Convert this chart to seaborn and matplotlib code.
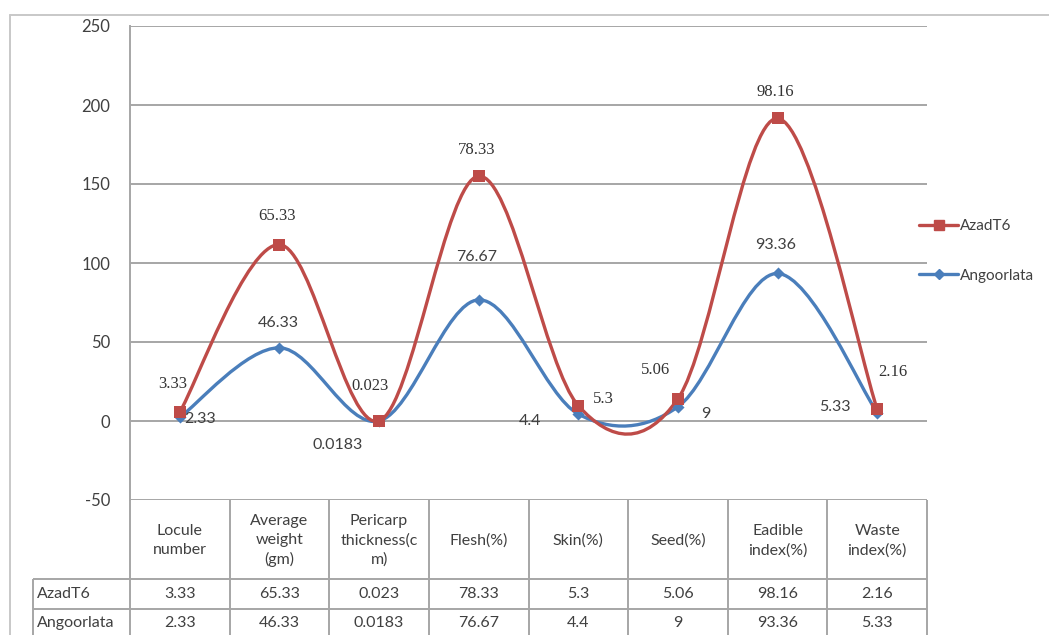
import numpy as np
import pandas as pd
import seaborn as sns
import matplotlib
matplotlib.use("Agg")
import matplotlib.pyplot as plt
from matplotlib.path import Path
from matplotlib.patches import PathPatch
from matplotlib.lines import Line2D

# ---- data -------------------------------------------------------------
categories = ["Locule\nnumber", "Average\nweight\n(gm)", "Pericarp\nthickness(c\nm)",
              "Flesh(%)", "Skin(%)", "Seed(%)", "Eadible\nindex(%)", "Waste\nindex(%)"]
series_names = ["AzadT6", "Angoorlata"]
azad_t6 = [3.33, 65.33, 0.023, 78.33, 5.3, 5.06, 98.16, 2.16]
angoorlata = [2.33, 46.33, 0.0183, 76.67, 4.4, 9, 93.36, 5.33]
table_text_azad = ["3.33", "65.33", "0.023", "78.33", "5.3", "5.06", "98.16", "2.16"]
table_text_angoor = ["2.33", "46.33", "0.0183", "76.67", "4.4", "9", "93.36", "5.33"]
y_ticks = [-50, 0, 50, 100, 150, 200, 250]

# ---- styling / layout --------------------------------------------------
W, H, DPI = 1049, 635, 100
RED = "#BE4B48"
BLUE = "#4A7EBB"
GRID = "#A6A6A6"
TXT = "#404040"
SANS = ["Lato", "DejaVu Sans"]
SERIF = ["Liberation Serif", "DejaVu Serif"]

# label offsets in pixels (dx, dy up)
red_label_off = [(-7, 28), (-2, 29), (-9, 35), (-2, 26), (25, 7), (-22, 29), (-2, 26), (16, 37)]
blue_label_off = [(20, -2), (-1, 25), (-41, -24), (-2, 43), (-48, -7), (28, -7), (-2, 28), (-42, 6)]

sns.set_theme(style="white")
plt.rcParams["font.family"] = SANS
plt.rcParams["axes.unicode_minus"] = False

fig = plt.figure(figsize=(W / DPI, H / DPI), dpi=DPI)
fig.patch.set_facecolor("white")

# plot area in pixels
PL, PR, PT, PB = 130, 927, 26, 500
ax = fig.add_axes([PL / W, 1 - PB / H, (PR - PL) / W, (PB - PT) / H], zorder=2)
ax.set_facecolor("none")

x = np.arange(len(categories))
# stacked line: AzadT6 sits on top of Angoorlata
stack_top = np.array(angoorlata) + np.array(azad_t6)
df = pd.DataFrame({
    "x": np.concatenate([x, x]),
    "y": np.concatenate([angoorlata, stack_top]),
    "series": ["Angoorlata"] * len(x) + ["AzadT6"] * len(x),
})


def smooth_path(xs, ys):
    """Cubic Bezier path through the points (Catmull-Rom style tangents)."""
    pts = np.column_stack([xs, ys]).astype(float)
    n = len(pts)
    verts = [pts[0]]
    codes = [Path.MOVETO]
    for i in range(n - 1):
        p_prev = pts[i - 1] if i > 0 else pts[i]
        p_next2 = pts[i + 2] if i + 2 < n else pts[i + 1]
        c1 = pts[i] + (pts[i + 1] - p_prev) / 6.0
        c2 = pts[i + 1] - (p_next2 - pts[i]) / 6.0
        verts += [c1, c2, pts[i + 1]]
        codes += [Path.CURVE4] * 3
    return Path(verts, codes)


for name, color in [("Angoorlata", BLUE), ("AzadT6", RED)]:
    sub = df[df.series == name]
    ax.add_patch(PathPatch(smooth_path(sub.x.values, sub.y.values), facecolor="none",
                           edgecolor=color, lw=2.4, zorder=3, capstyle="round"))

sns.scatterplot(data=df[df.series == "Angoorlata"], x="x", y="y", marker="D", s=38,
                color=BLUE, edgecolor=BLUE, linewidth=0, ax=ax, zorder=4, legend=False)
sns.scatterplot(data=df[df.series == "AzadT6"], x="x", y="y", marker="s", s=72,
                color=RED, edgecolor=RED, linewidth=0, ax=ax, zorder=5, legend=False)

# data labels
for i in range(len(x)):
    dx, dy = red_label_off[i]
    ax.annotate(table_text_azad[i], (x[i], stack_top[i]), xytext=(dx * 0.72, dy * 0.72),
                textcoords="offset points", ha="center", va="center", fontsize=12,
                family=SERIF, color="#333333", zorder=6)
    dx, dy = blue_label_off[i]
    ax.annotate(table_text_angoor[i], (x[i], angoorlata[i]), xytext=(dx * 0.72, dy * 0.72),
                textcoords="offset points", ha="center", va="center", fontsize=11.5,
                family=SANS, color=TXT, zorder=6)

ax.set_xlim(-0.5, len(categories) - 0.5)
ax.set_ylim(-50, 250)
ax.set_yticks(y_ticks)
ax.set_xticks([])
ax.set_xlabel("")
ax.set_ylabel("")
ax.grid(axis="y", color=GRID, lw=1.4)
ax.tick_params(axis="y", length=0, pad=14.4, labelsize=12, labelcolor=TXT)
for s in ["top", "right", "bottom"]:
    ax.spines[s].set_visible(False)
ax.spines["left"].set_color(GRID)
ax.spines["left"].set_linewidth(1.4)

# legend
handles = [Line2D([], [], color=RED, lw=2.4, marker="s", markersize=7.5),
           Line2D([], [], color=BLUE, lw=2.4, marker="D", markersize=5.5)]
fig.legend(handles, series_names, loc="center left",
           bbox_to_anchor=(905 / W, 1 - 251 / H), frameon=False, fontsize=11,
           handlelength=2.6, handletextpad=0.1, labelspacing=2.3, labelcolor=TXT)

# overlay in pixel coordinates: outer frame and data table
ov = fig.add_axes([0, 0, 1, 1], zorder=1)
ov.set_xlim(0, W)
ov.set_ylim(H, 0)
ov.axis("off")

frame_kw = dict(color="#C8C8C8", lw=1.4)
ov.plot([10, W], [15, 15], **frame_kw)
ov.plot([10, 10], [15, H], **frame_kw)

col_w = (PR - PL) / len(categories)
header_bottom, row1_bottom, row2_bottom = 579, 609, 639
line_kw = dict(color=GRID, lw=1.4, solid_capstyle="butt")
for k in range(len(categories) + 1):
    xx = PL + k * col_w
    ov.plot([xx, xx], [PB, H + 5], **line_kw)
ov.plot([33, 33], [header_bottom, H + 5], **line_kw)
for yy in [header_bottom, row1_bottom, row2_bottom]:
    ov.plot([33, PR], [yy, yy], **line_kw)

for k, cat in enumerate(categories):
    cx = PL + (k + 0.5) * col_w
    ov.text(cx, (PB + header_bottom) / 2 + 1, cat, ha="center", va="center",
            fontsize=11.5, color=TXT, linespacing=1.45)
    ov.text(cx, (header_bottom + row1_bottom) / 2, table_text_azad[k], ha="center",
            va="center", fontsize=11.5, color=TXT)
    ov.text(cx, (row1_bottom + row2_bottom) / 2 - 1, table_text_angoor[k], ha="center",
            va="center", fontsize=11.5, color=TXT)
ov.text(37, (header_bottom + row1_bottom) / 2, series_names[0], ha="left", va="center",
        fontsize=11.5, color=TXT)
ov.text(37, (row1_bottom + row2_bottom) / 2 - 1, series_names[1], ha="left", va="center",
        fontsize=11.5, color=TXT)

fig.savefig("out.png", dpi=DPI, facecolor="white")
